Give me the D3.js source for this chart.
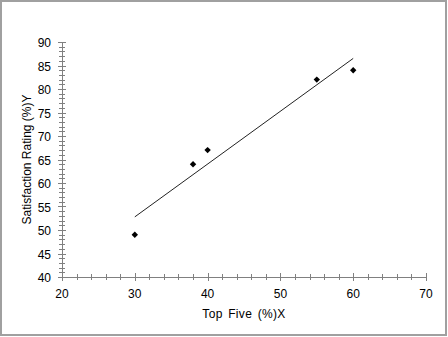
<!DOCTYPE html>
<html>
<head>
<meta charset="utf-8">
<script src="https://cdn.jsdelivr.net/npm/d3@7"></script>
<style>
    body { margin: 0; background: #fff; }
    text { font-family: "Liberation Sans", Arial, sans-serif; font-size: 12px; fill: #000; }
</style>
</head>
<body>
<div id="chart"></div>
<script>
// data
var topFive = [30, 38, 40, 55, 60];
var satisfaction = [49, 64, 67, 82, 84];
var xTicks = [20, 30, 40, 50, 60, 70];
var yTicks = [40, 45, 50, 55, 60, 65, 70, 75, 80, 85, 90];

var width = 448, height = 337;
var margin = { top: 42, right: 22, bottom: 60, left: 62 };

var svg = d3.select("#chart")
    .append("svg")
    .attr("width", width)
    .attr("height", height);

// outer frame
svg.append("rect")
    .attr("x", 1).attr("y", 1)
    .attr("width", width - 3).attr("height", height - 3)
    .attr("fill", "none")
    .attr("stroke", "#a0a0a0")
    .attr("stroke-width", 2);

var x = d3.scaleLinear().domain([20, 70]).range([margin.left, width - margin.right]);
var y = d3.scaleLinear().domain([40, 90]).range([height - margin.bottom, margin.top]);

var axisColor = "#808080";

// x axis line + ticks
var g = svg.append("g").attr("shape-rendering", "crispEdges");
g.append("line")
    .attr("x1", x(20)).attr("x2", x(70))
    .attr("y1", y(40)).attr("y2", y(40))
    .attr("stroke", axisColor);
g.selectAll(".xminor")
    .data(d3.range(20, 70.1, 2))
    .enter().append("line")
    .attr("x1", d => Math.round(x(d)) + 0.5).attr("x2", d => Math.round(x(d)) + 0.5)
    .attr("y1", d => y(40) - (d % 10 == 0 ? 4 : 3))
    .attr("y2", d => y(40) + (d % 10 == 0 ? 4 : 3))
    .attr("stroke", axisColor);

// y axis line + ticks
g.append("line")
    .attr("x1", x(20)).attr("x2", x(20))
    .attr("y1", y(40)).attr("y2", y(90))
    .attr("stroke", axisColor);
g.selectAll(".yminor")
    .data(d3.range(40, 90.1, 1))
    .enter().append("line")
    .attr("y1", d => Math.round(y(d)) + 0.5).attr("y2", d => Math.round(y(d)) + 0.5)
    .attr("x1", d => x(20) - (d % 5 == 0 ? 4 : 3))
    .attr("x2", d => x(20) + (d % 5 == 0 ? 4 : 3))
    .attr("stroke", axisColor);

// tick labels
svg.selectAll(".xlab")
    .data(xTicks)
    .enter().append("text")
    .attr("x", d => x(d))
    .attr("y", y(40) + 21)
    .attr("text-anchor", "middle")
    .text(d => d);

svg.selectAll(".ylab")
    .data(yTicks)
    .enter().append("text")
    .attr("x", x(20) - 11)
    .attr("y", d => y(d) + 5)
    .attr("text-anchor", "end")
    .text(d => d);

// axis titles
svg.append("text")
    .attr("x", (x(20) + x(70)) / 2)
    .attr("y", y(40) + 41)
    .attr("text-anchor", "middle")
    .style("word-spacing", "2px")
    .style("letter-spacing", "0.3px")
    .text("Top Five (%)X");

svg.append("text")
    .attr("transform", "translate(31," + ((y(40) + y(90)) / 2) + ") rotate(-90)")
    .attr("text-anchor", "middle")
    .text("Satisfaction Rating (%)Y");

// least squares trend line over the data range
var mx = d3.mean(topFive), my = d3.mean(satisfaction);
var sxy = d3.sum(topFive, (v, i) => (v - mx) * (satisfaction[i] - my));
var sxx = d3.sum(topFive, v => (v - mx) * (v - mx));
var slope = sxy / sxx, intercept = my - slope * mx;
var xMin = d3.min(topFive), xMax = d3.max(topFive);

svg.append("line")
    .attr("x1", x(xMin)).attr("y1", y(intercept + slope * xMin))
    .attr("x2", x(xMax)).attr("y2", y(intercept + slope * xMax))
    .attr("stroke", "#222")
    .attr("stroke-width", 1);

// points
var diamond = d3.symbol().type(d3.symbolDiamond2).size(26);
svg.selectAll(".pt")
    .data(topFive)
    .enter().append("path")
    .attr("d", diamond)
    .attr("transform", (d, i) => "translate(" + x(d) + "," + y(satisfaction[i]) + ")")
    .attr("fill", "#000");
</script>
</body>
</html>
